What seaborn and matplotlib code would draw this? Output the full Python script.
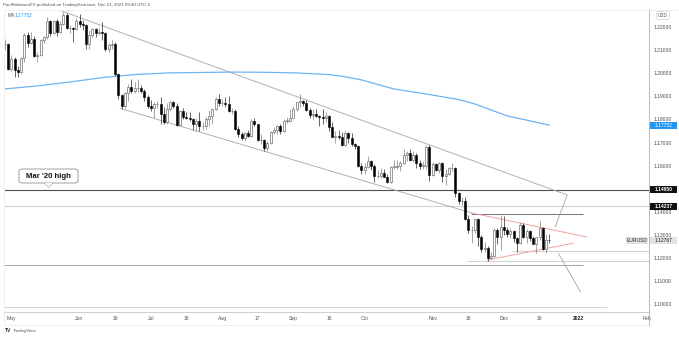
import numpy as np
import pandas as pd
import matplotlib
matplotlib.use("Agg")
import matplotlib.pyplot as plt
import seaborn as sns
from matplotlib.patches import Rectangle, FancyBboxPatch, Polygon
from matplotlib.lines import Line2D

# ---------------- data (EURUSD daily) ----------------
start_date = "2021-04-29"
end_date = "2021-12-21"

opens = [
    1.2125, 1.2125,
    1.2020, 1.2060, 1.2015, 1.2005, 1.2065, 1.2165, 1.2130, 1.2150, 1.2075, 1.2080,
    1.2145, 1.2155, 1.2225, 1.2175, 1.2225, 1.2180, 1.2215, 1.2250, 1.2195, 1.2195, 1.2190,
    1.2225, 1.2215, 1.2210, 1.2125, 1.2165, 1.2190, 1.2175, 1.2180, 1.2175, 1.2105, 1.2120,
    1.2125, 1.1995, 1.1905, 1.1860, 1.1915, 1.1940, 1.1925, 1.1935, 1.1935, 1.1925, 1.1895,
    1.1860, 1.1850, 1.1865, 1.1865, 1.1825, 1.1790, 1.1845, 1.1875, 1.1860, 1.1775, 1.1835,
    1.1810, 1.1805, 1.1800, 1.1780, 1.1795, 1.1770, 1.1770, 1.1800, 1.1815, 1.1845, 1.1890,
    1.1870, 1.1870, 1.1865, 1.1835, 1.1835, 1.1760, 1.1735, 1.1720, 1.1740, 1.1730, 1.1795,
    1.1780, 1.1710, 1.1710, 1.1675, 1.1700, 1.1745, 1.1755, 1.1770, 1.1750, 1.1795, 1.1795,
    1.1805, 1.1845, 1.1875, 1.1880, 1.1870, 1.1840, 1.1820, 1.1825, 1.1815, 1.1810, 1.1805,
    1.1815, 1.1765, 1.1725, 1.1730, 1.1725, 1.1690, 1.1740, 1.1720, 1.1695, 1.1685, 1.1600,
    1.1580, 1.1595, 1.1620, 1.1600, 1.1555, 1.1555, 1.1570, 1.1550, 1.1530, 1.1595, 1.1595,
    1.1600, 1.1610, 1.1645, 1.1655, 1.1625, 1.1645, 1.1610, 1.1600, 1.1600, 1.1680,
    1.1560, 1.1608, 1.1580, 1.1610, 1.1555, 1.1565, 1.1590, 1.1590, 1.1480, 1.1445, 1.1445,
    1.1370, 1.1320, 1.1320, 1.1370, 1.1290, 1.1240, 1.1245, 1.1200, 1.1210, 1.1320, 1.1290,
    1.1335, 1.1320, 1.1305, 1.1315, 1.1285, 1.1265, 1.1345, 1.1290, 1.1315, 1.1285, 1.1260,
    1.1290, 1.1330, 1.1240, 1.1280,
]
highs = [
    1.2150, 1.2130,
    1.2080, 1.2070, 1.2030, 1.2070, 1.2175, 1.2180, 1.2180, 1.2160, 1.2090, 1.2150,
    1.2160, 1.2245, 1.2230, 1.2230, 1.2235, 1.2225, 1.2265, 1.2260, 1.2210, 1.2200, 1.2240,
    1.2255, 1.2230, 1.2215, 1.2185, 1.2195, 1.2195, 1.2195, 1.2220, 1.2180, 1.2130, 1.2145,
    1.2135, 1.2000, 1.1910, 1.1920, 1.1955, 1.1975, 1.1960, 1.1975, 1.1950, 1.1930, 1.1905,
    1.1885, 1.1875, 1.1880, 1.1895, 1.1855, 1.1870, 1.1880, 1.1880, 1.1870, 1.1840, 1.1850,
    1.1830, 1.1830, 1.1805, 1.1805, 1.1830, 1.1790, 1.1810, 1.1840, 1.1850, 1.1895, 1.1910,
    1.1890, 1.1895, 1.1900, 1.1850, 1.1845, 1.1770, 1.1745, 1.1745, 1.1755, 1.1800, 1.1805,
    1.1780, 1.1735, 1.1715, 1.1705, 1.1750, 1.1765, 1.1775, 1.1780, 1.1800, 1.1810, 1.1845,
    1.1857, 1.1875, 1.1910, 1.1885, 1.1885, 1.1850, 1.1845, 1.1845, 1.1820, 1.1845, 1.1830,
    1.1820, 1.1790, 1.1750, 1.1755, 1.1745, 1.1750, 1.1745, 1.1740, 1.1700, 1.1690, 1.1610,
    1.1610, 1.1640, 1.1625, 1.1605, 1.1580, 1.1590, 1.1585, 1.1565, 1.1600, 1.1625, 1.1625,
    1.1620, 1.1670, 1.1665, 1.1670, 1.1665, 1.1655, 1.1625, 1.1620, 1.1690, 1.1690,
    1.1615, 1.1610, 1.1615, 1.1615, 1.1585, 1.1595, 1.1610, 1.1595, 1.1485, 1.1465, 1.1465,
    1.1385, 1.1340, 1.1375, 1.1375, 1.1300, 1.1270, 1.1250, 1.1225, 1.1330, 1.1330, 1.1385,
    1.1380, 1.1335, 1.1330, 1.1320, 1.1290, 1.1355, 1.1350, 1.1325, 1.1320, 1.1295, 1.1290,
    1.1360, 1.1335, 1.1305, 1.1305,
]
lows = [
    1.2100, 1.2015,
    1.2010, 1.1985, 1.1985, 1.1995, 1.2050, 1.2115, 1.2125, 1.2070, 1.2050, 1.2075,
    1.2130, 1.2150, 1.2160, 1.2170, 1.2160, 1.2175, 1.2210, 1.2190, 1.2175, 1.2135, 1.2185,
    1.2200, 1.2185, 1.2105, 1.2105, 1.2155, 1.2155, 1.2165, 1.2145, 1.2095, 1.2090, 1.2105,
    1.1990, 1.1890, 1.1845, 1.1850, 1.1880, 1.1915, 1.1915, 1.1920, 1.1915, 1.1880, 1.1850,
    1.1835, 1.1805, 1.1850, 1.1780, 1.1780, 1.1780, 1.1835, 1.1850, 1.1770, 1.1770, 1.1800,
    1.1800, 1.1795, 1.1755, 1.1750, 1.1750, 1.1755, 1.1760, 1.1770, 1.1780, 1.1840, 1.1860,
    1.1860, 1.1855, 1.1830, 1.1825, 1.1755, 1.1725, 1.1710, 1.1705, 1.1725, 1.1725, 1.1770,
    1.1705, 1.1695, 1.1665, 1.1665, 1.1695, 1.1735, 1.1735, 1.1735, 1.1745, 1.1785, 1.1790,
    1.1805, 1.1835, 1.1855, 1.1860, 1.1835, 1.1805, 1.1800, 1.1810, 1.1770, 1.1780, 1.1790,
    1.1750, 1.1725, 1.1700, 1.1715, 1.1685, 1.1685, 1.1700, 1.1685, 1.1670, 1.1595, 1.1565,
    1.1565, 1.1590, 1.1580, 1.1530, 1.1545, 1.1545, 1.1550, 1.1525, 1.1525, 1.1585, 1.1585,
    1.1575, 1.1605, 1.1620, 1.1620, 1.1615, 1.1590, 1.1585, 1.1585, 1.1585, 1.1535,
    1.1555, 1.1575, 1.1570, 1.1530, 1.1515, 1.1560, 1.1575, 1.1465, 1.1435, 1.1430, 1.1365,
    1.1310, 1.1265, 1.1310, 1.1250, 1.1225, 1.1225, 1.1185, 1.1195, 1.1205, 1.1260, 1.1235,
    1.1300, 1.1290, 1.1285, 1.1270, 1.1225, 1.1260, 1.1285, 1.1265, 1.1275, 1.1260, 1.1220,
    1.1280, 1.1235, 1.1220, 1.1265,
]
closes = [
    1.2125, 1.2020,
    1.2060, 1.2015, 1.2005, 1.2065, 1.2165, 1.2130, 1.2150, 1.2075, 1.2080, 1.2145,
    1.2155, 1.2225, 1.2175, 1.2225, 1.2180, 1.2215, 1.2250, 1.2195, 1.2195, 1.2190, 1.2225,
    1.2215, 1.2210, 1.2125, 1.2165, 1.2190, 1.2175, 1.2180, 1.2175, 1.2105, 1.2120, 1.2125,
    1.1995, 1.1905, 1.1860, 1.1915, 1.1940, 1.1925, 1.1935, 1.1935, 1.1925, 1.1895, 1.1860,
    1.1850, 1.1865, 1.1865, 1.1825, 1.1790, 1.1845, 1.1875, 1.1860, 1.1775, 1.1835, 1.1810,
    1.1805, 1.1800, 1.1780, 1.1795, 1.1770, 1.1770, 1.1800, 1.1815, 1.1845, 1.1890, 1.1870,
    1.1870, 1.1865, 1.1835, 1.1835, 1.1760, 1.1735, 1.1720, 1.1740, 1.1730, 1.1795, 1.1780,
    1.1710, 1.1710, 1.1675, 1.1700, 1.1745, 1.1755, 1.1770, 1.1750, 1.1795, 1.1795, 1.1805,
    1.1845, 1.1875, 1.1880, 1.1870, 1.1840, 1.1820, 1.1825, 1.1815, 1.1810, 1.1805, 1.1815,
    1.1765, 1.1725, 1.1730, 1.1725, 1.1690, 1.1740, 1.1720, 1.1695, 1.1685, 1.1600, 1.1580,
    1.1595, 1.1620, 1.1600, 1.1555, 1.1555, 1.1570, 1.1550, 1.1530, 1.1595, 1.1595, 1.1600,
    1.1610, 1.1645, 1.1655, 1.1625, 1.1645, 1.1610, 1.1600, 1.1600, 1.1680, 1.1560,
    1.1608, 1.1580, 1.1610, 1.1555, 1.1565, 1.1590, 1.1590, 1.1480, 1.1445, 1.1445, 1.1370,
    1.1320, 1.1320, 1.1370, 1.1290, 1.1240, 1.1245, 1.1200, 1.1210, 1.1320, 1.1290, 1.1335,
    1.1320, 1.1305, 1.1315, 1.1285, 1.1265, 1.1345, 1.1290, 1.1315, 1.1285, 1.1260, 1.1290,
    1.1330, 1.1240, 1.1280, 1.1277,
]

# 200-day moving average, sampled from the blue line (bar index, value)
ma_index = [0, 10, 20, 30, 40, 50, 60, 70, 80, 90, 100, 104, 110, 120, 130, 140, 145, 150, 155, 160, 168]
ma_values = [1.1932, 1.1945, 1.1962, 1.1981, 1.1994, 1.2001, 1.2003, 1.2005, 1.2004, 1.2001,
             1.1994, 1.1987, 1.1971, 1.1932, 1.1910, 1.1886, 1.1867, 1.1841, 1.1815, 1.1800, 1.1775]
ma_last = 1.17752
last_price = 1.12767
level_mar20 = 1.14950
level_b = 1.14237

tick_dates = ["2021-05-03", "2021-06-01", "2021-06-16", "2021-07-01", "2021-07-16",
              "2021-08-02", "2021-08-17", "2021-09-01", "2021-09-16", "2021-10-01",
              "2021-11-01", "2021-11-16", "2021-12-01", "2021-12-16", "2022-01-03", "2022-02-01"]
tick_labels = ["May", "Jun", "16", "Jul", "16", "Aug", "17", "Sep", "16", "Oct",
               "Nov", "16", "Dec", "16", "2022", "Feb"]
price_ticks = [1.10, 1.11, 1.12, 1.13, 1.14, 1.15, 1.16, 1.17, 1.18, 1.19, 1.20, 1.21, 1.22]

# drawn trend lines: (bar index start, price start, bar index end, price end)
trend_grey = [
    (17.5, 1.22693, 173.5, 1.14727),   # upper channel
    (35.5, 1.18481, 144.1, 1.13948),   # lower channel
    (169.8, 1.13342, 173.5, 1.14727),  # break higher path
    (170.8, 1.12195, 177.6, 1.10541),  # break lower path
]
trend_red = [
    (144.1, 1.13948, 179.6, 1.12909),
    (148.8, 1.11913, 175.3, 1.12636),
]
# horizontal levels: (price, start index or None, end index or None, color, lw)
h_levels = [
    (1.14950, None, None, "#505050", 0.8),
    (1.14237, None, None, "#d6d6d6", 0.9),
    (1.13890, 143.8, 178.4, "#5e5e5e", 0.6),
    (1.12303, 156.5, None, "#d2d2d2", 0.8),
    (1.11870, 142.6, None, "#d2d2d2", 0.8),
    (1.11697, None, 178.4, "#a8a8a8", 0.7),
    (1.09879, None, 185.8, "#d6d6d6", 0.8),
]

# ---------------- figure ----------------
sns.set_theme(style="white")
plt.rcParams["font.family"] = ["Liberation Sans", "DejaVu Sans"]

W, H = 679, 337
L, T, R, B = 4, 10, 649, 311.7
X0, DX = 5.0, 3.24
fig = plt.figure(figsize=(W / 100, H / 100), dpi=100)
fig.patch.set_facecolor("white")
ax = fig.add_axes([L / W, 1 - B / H, (R - L) / W, (B - T) / H])
ax.set_facecolor("white")

dates = pd.bdate_range(start_date, end_date)
all_days = pd.bdate_range(start_date, "2022-03-01")
idx = np.arange(len(dates))
o = np.array(opens); h = np.array(highs); l = np.array(lows); c = np.array(closes)
assert len(o) == len(h) == len(l) == len(c) == len(dates)

YBOT = 1.22 - (B - 27) / 2310.0
YTOP = 1.22 + (27 - T) / 2310.0
ax.set_xlim((L - X0) / DX, (R - X0) / DX)
ax.set_ylim(YBOT, YTOP)

# horizontal levels
xl = ax.get_xlim()
for p, s, e, col, lw in h_levels:
    s = xl[0] if s is None else s
    e = xl[1] if e is None else e
    ax.plot([s, e], [p, p], color=col, lw=lw, zorder=1, solid_capstyle="butt")

for x1, y1, x2, y2 in trend_grey:
    ax.plot([x1, x2], [y1, y2], color="#ababab", lw=0.65, zorder=1)
for x1, y1, x2, y2 in trend_red:
    ax.plot([x1, x2], [y1, y2], color="#f0a2a2", lw=0.7, zorder=1)

# moving average
sns.lineplot(x=ma_index, y=ma_values, ax=ax, color="#6db3f2", lw=0.9, zorder=2)

# candles
up = c >= o
wick_col = np.where(up, "#8a8a8a", "#3a3a3a")
ax.vlines(idx, l, h, colors=wick_col, lw=0.55, zorder=3)
bottom = np.minimum(o, c)
height = np.maximum(np.abs(c - o), 0.00012)
ax.bar(idx[up], height[up], bottom=bottom[up], width=0.62, color="white",
       edgecolor="#707070", linewidth=0.5, zorder=4)
ax.bar(idx[~up], height[~up], bottom=bottom[~up], width=0.62, color="black",
       edgecolor="black", linewidth=0.4, zorder=4)

# axes styling
for sp in ax.spines.values():
    sp.set_visible(False)
ax.yaxis.tick_right()
ax.set_yticks(price_ticks)
ax.set_yticklabels([f"{v:.5f}" for v in price_ticks])
ax.tick_params(axis="y", length=0, pad=3.3, labelsize=3.6, labelcolor="#4a4a4a")
pos = [all_days.get_loc(pd.Timestamp(d)) for d in tick_dates]
ax.set_xticks(pos)
ax.set_xticklabels(tick_labels)
ax.tick_params(axis="x", length=0, pad=3.0, labelsize=3.6, labelcolor="#555555")
for lab in ax.get_xticklabels():
    if lab.get_text() == "2022":
        lab.set_fontweight("bold")
        lab.set_color("#222222")
ax.grid(False)
ax.set_xlabel(""); ax.set_ylabel("")

# ---------------- overlays in pixel space ----------------
def fx(x):
    return x / W

def fy(y):
    return 1 - y / H

def py(p):
    return T + (YTOP - p) / (YTOP - YBOT) * (B - T)

def fline(x1, y1, x2, y2, col, lw=0.6):
    fig.add_artist(Line2D([fx(x1), fx(x2)], [fy(y1), fy(y2)], color=col, lw=lw,
                          transform=fig.transFigure))

fline(L, T, 677, T, "#ececec", 0.6)
fline(L, T, L, 324, "#ececec", 0.6)
fline(L, B, R, B, "#cfcfcf", 0.7)
fline(L, 324.5, R, 324.5, "#ececec", 0.6)
fline(R, T, R, 325, "#b8b8b8", 0.7)

def price_box(p, text, fc, tc, x0=650, w=27, bold=False):
    y = py(p)
    fig.add_artist(Rectangle((fx(x0), fy(y + 3.6)), w / W, 7.2 / H, transform=fig.transFigure,
                             fc=fc, ec="none", zorder=10))
    fig.text(fx(x0 + w / 2), fy(y), text, ha="center", va="center", fontsize=3.6,
             color=tc, fontweight="bold" if bold else "normal", zorder=11)

price_box(ma_last, f"{ma_last:.5f}", "#2196f3", "white")
price_box(level_mar20, f"{level_mar20:.5f}", "#111111", "white", bold=True)
price_box(level_b, f"{level_b:.5f}", "#111111", "white", bold=True)
price_box(last_price, f"{last_price:.5f}", "#e2e2e2", "#222222")
price_box(last_price, "EURUSD", "#e2e2e2", "#333333", x0=626, w=22)

# USD box
fig.text(fx(663), fy(15.5), "USD", ha="center", va="center", fontsize=3.3, color="#555555",
         bbox=dict(boxstyle="round,pad=0.35,rounding_size=0.4", fc="white", ec="#d0d0d0", lw=0.5))

# header texts
fig.text(fx(3), fy(5), "PaulRobinsonFX published on TradingView.com, Dec 21, 2021 09:40 UTC-5",
         ha="left", va="center", fontsize=3.2, color="#505050")
fig.text(fx(7.5), fy(15.7), "MA", ha="left", va="center", fontsize=3.5, color="#555555")
fig.text(fx(14.5), fy(15.7), f"{ma_last:.5f}", ha="left", va="center", fontsize=3.5, color="#2196f3")

# TradingView logo text
fig.text(fx(4.5), fy(331), "TV", ha="left", va="center", fontsize=3.6, color="#222222", fontweight="bold")
fig.text(fx(12.5), fy(331), "TradingView", ha="left", va="center", fontsize=3.2, color="#555555")

# Mar '20 high callout
bx0, by0, bx1, by1 = 19, 169, 78, 183
fig.add_artist(FancyBboxPatch((fx(bx0), fy(by1)), (bx1 - bx0) / W, (by1 - by0) / H,
                              boxstyle="round,pad=0,rounding_size=0.006",
                              transform=fig.transFigure, fc="white", ec="#8f8f8f", lw=0.6, zorder=12))
fig.add_artist(Polygon([[fx(44.5), fy(182.9)], [fx(48.5), fy(187)], [fx(52.5), fy(182.9)]],
                       closed=True, transform=fig.transFigure, fc="white", ec="none", zorder=13))
fline(44.5, 183, 48.5, 187, "#8f8f8f", 0.6)
fline(48.5, 187, 52.5, 183, "#8f8f8f", 0.6)
fig.text(fx(48.5), fy(176), "Mar '20 high", ha="center", va="center", fontsize=5.6,
         fontweight="bold", color="#111111", zorder=14)

fig.savefig("out.png", dpi=100, facecolor="white")
